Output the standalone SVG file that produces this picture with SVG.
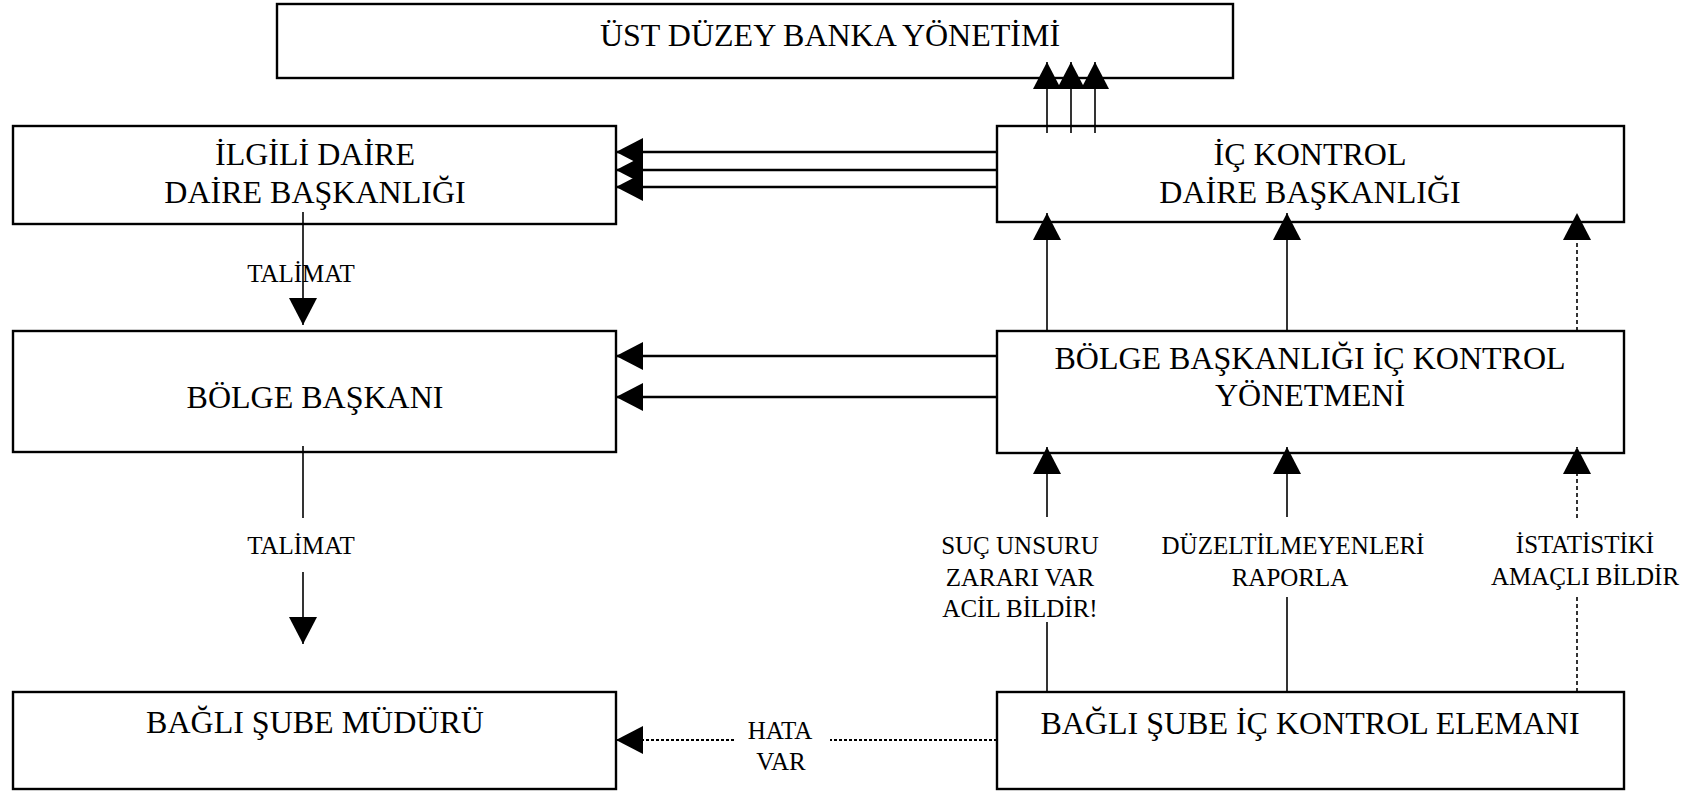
<svg xmlns="http://www.w3.org/2000/svg" width="1691" height="792" viewBox="0 0 1691 792">
<defs>
<marker id="ah" markerUnits="userSpaceOnUse" markerWidth="28" markerHeight="28" refX="27" refY="14" orient="auto" viewBox="0 0 28 28">
<path d="M0,0 L27,14 L0,28 z" fill="#000"/>
</marker>
</defs>
<style>
.box{fill:none;stroke:#000;stroke-width:2.4}
.t{font-family:"Liberation Serif","Times New Roman",serif;font-size:32px;fill:#000;text-anchor:middle}
.l{font-family:"Liberation Serif","Times New Roman",serif;font-size:25px;fill:#000;text-anchor:middle}
.c{stroke:#000;stroke-width:1.6;fill:none}
.thick{stroke-width:2.6}
.dash{stroke-dasharray:4 3}
.dot{stroke-dasharray:3 2;stroke-width:1.8}
</style>
<rect width="1691" height="792" fill="#fff"/>
<g id="connectors">
<line class="c" x1="1047" y1="133" x2="1047" y2="62" marker-end="url(#ah)"/>
<line class="c" x1="1071" y1="133" x2="1071" y2="62" marker-end="url(#ah)"/>
<line class="c" x1="1095" y1="133" x2="1095" y2="62" marker-end="url(#ah)"/>
<line class="c thick" x1="997" y1="152" x2="616" y2="152" marker-end="url(#ah)"/>
<line class="c thick" x1="997" y1="170" x2="616" y2="170" marker-end="url(#ah)"/>
<line class="c thick" x1="997" y1="187" x2="616" y2="187" marker-end="url(#ah)"/>
<line class="c thick" x1="997" y1="356" x2="616" y2="356" marker-end="url(#ah)"/>
<line class="c thick" x1="997" y1="397" x2="616" y2="397" marker-end="url(#ah)"/>
<line class="c" x1="303" y1="212" x2="303" y2="325" marker-end="url(#ah)"/>
<line class="c" x1="303" y1="446" x2="303" y2="518"/>
<line class="c" x1="303" y1="572" x2="303" y2="644" marker-end="url(#ah)"/>
<line class="c" x1="1047" y1="331" x2="1047" y2="213" marker-end="url(#ah)"/>
<line class="c" x1="1287" y1="331" x2="1287" y2="213" marker-end="url(#ah)"/>
<line class="c dash" x1="1577" y1="331" x2="1577" y2="213" marker-end="url(#ah)"/>
<line class="c" x1="1047" y1="692" x2="1047" y2="622"/>
<line class="c" x1="1047" y1="517" x2="1047" y2="447" marker-end="url(#ah)"/>
<line class="c" x1="1287" y1="692" x2="1287" y2="597"/>
<line class="c" x1="1287" y1="517" x2="1287" y2="447" marker-end="url(#ah)"/>
<line class="c dash" x1="1577" y1="692" x2="1577" y2="595"/>
<line class="c dash" x1="1577" y1="518" x2="1577" y2="447" marker-end="url(#ah)"/>
<line class="c dot" x1="997" y1="740" x2="830" y2="740"/>
<line class="c dot" x1="734" y1="740" x2="616" y2="740" marker-end="url(#ah)"/>
<text class="l" x="301" y="282">TALİMAT</text>
<text class="l" x="301" y="554">TALİMAT</text>
<text class="l" x="1020" y="554">SUÇ UNSURU</text>
<text class="l" x="1020" y="586">ZARARI VAR</text>
<text class="l" x="1020" y="617">ACİL BİLDİR!</text>
<text class="l" x="1293" y="554">DÜZELTİLMEYENLERİ</text>
<text class="l" x="1290" y="586">RAPORLA</text>
<text class="l" x="1585" y="553">İSTATİSTİKİ</text>
<text class="l" x="1585" y="585">AMAÇLI BİLDİR</text>
<text class="l" x="780" y="739">HATA</text>
<text class="l" x="781" y="770">VAR</text>
</g>
<g id="ust-duzey">
<rect class="box" x="277" y="4" width="956" height="74"/>
<text class="t" x="830" y="46">ÜST DÜZEY BANKA YÖNETİMİ</text>
</g>
<g id="ilgili-daire">
<rect class="box" x="13" y="126" width="603" height="98"/>
<text class="t" x="315" y="165">İLGİLİ DAİRE</text>
<text class="t" x="315" y="203">DAİRE BAŞKANLIĞI</text>
</g>
<g id="ic-kontrol">
<rect class="box" x="997" y="126" width="627" height="96"/>
<text class="t" x="1310" y="165">İÇ KONTROL</text>
<text class="t" x="1310" y="203">DAİRE BAŞKANLIĞI</text>
</g>
<g id="bolge-baskani">
<rect class="box" x="13" y="331" width="603" height="121"/>
<text class="t" x="315" y="408">BÖLGE BAŞKANI</text>
</g>
<g id="bolge-ic-kontrol">
<rect class="box" x="997" y="331" width="627" height="122"/>
<text class="t" x="1310" y="369">BÖLGE BAŞKANLIĞI İÇ KONTROL</text>
<text class="t" x="1310" y="406">YÖNETMENİ</text>
</g>
<g id="sube-muduru">
<rect class="box" x="13" y="692" width="603" height="97"/>
<text class="t" x="315" y="733">BAĞLI ŞUBE MÜDÜRÜ</text>
</g>
<g id="sube-ic-kontrol">
<rect class="box" x="997" y="692" width="627" height="97"/>
<text class="t" x="1310" y="734">BAĞLI ŞUBE İÇ KONTROL ELEMANI</text>
</g>
</svg>
